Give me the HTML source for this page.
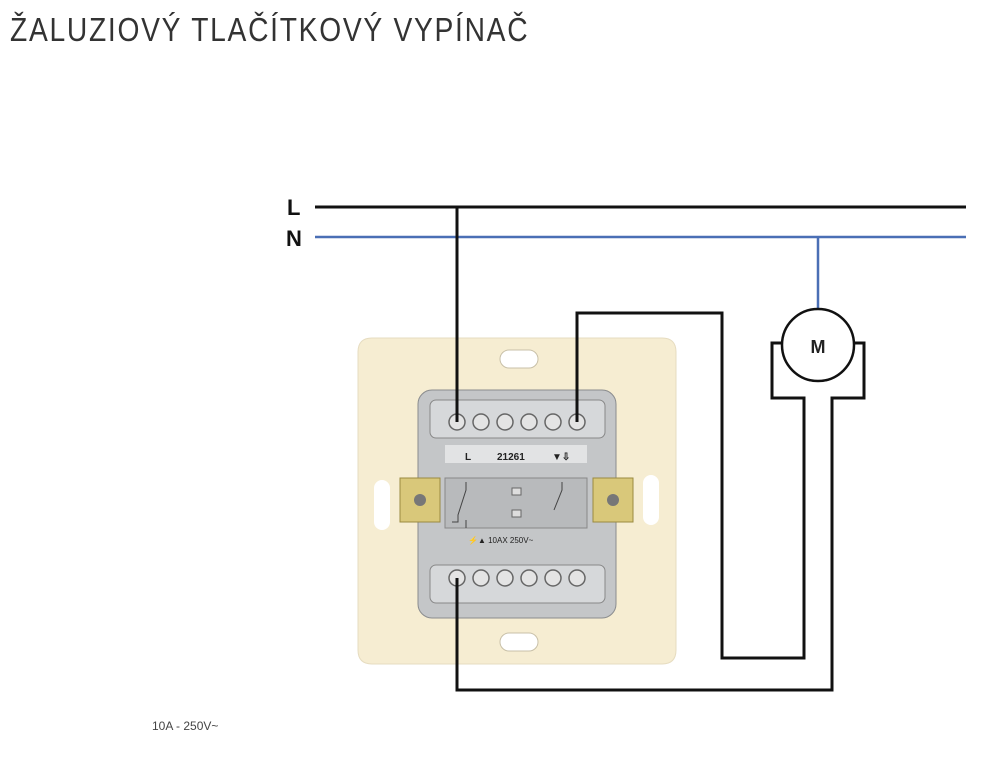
<!DOCTYPE html>
<html><head><style>
html,body{margin:0;padding:0;background:#fff;width:1000px;height:775px;overflow:hidden}
.t{position:absolute;left:10px;top:11px;font-family:"Liberation Sans",sans-serif;font-size:33px;color:#333;transform:scaleX(0.855);transform-origin:0 0;white-space:nowrap;letter-spacing:2px}
.f{position:absolute;left:152px;top:719px;font-family:"Liberation Sans",sans-serif;font-size:12px;color:#444}
</style></head><body>
<div class="t">ŽALUZIOVÝ TLAČÍTKOVÝ VYPÍNAČ</div>
<div class="f">10A - 250V~</div>
<svg width="1000" height="775" style="position:absolute;left:0;top:0">
<path d="M372 338 H662 Q676 338 676 352 V650 Q676 664 662 664 H372 Q358 664 358 650 V352 Q358 338 372 338Z" fill="#f6edd2" stroke="#e6dcc0"/>
<rect x="500" y="350" width="38" height="18" rx="9" fill="#fff" stroke="#c8c0a8"/>
<rect x="500" y="633" width="38" height="18" rx="9" fill="#fff" stroke="#c8c0a8"/>
<rect x="374" y="480" width="16" height="50" rx="8" fill="#fff"/>
<rect x="643" y="475" width="16" height="50" rx="8" fill="#fff"/>
<rect x="418" y="390" width="198" height="228" rx="14" fill="#c4c6c8" stroke="#8a8c8e"/>
<rect x="430" y="400" width="175" height="38" rx="6" fill="#d6d8da" stroke="#888"/>
<rect x="430" y="565" width="175" height="38" rx="6" fill="#d6d8da" stroke="#888"/>
<g fill="#e4e4e4" stroke="#666" stroke-width="1.5">
<circle cx="457" cy="422" r="8"/><circle cx="481" cy="422" r="8"/><circle cx="505" cy="422" r="8"/><circle cx="529" cy="422" r="8"/><circle cx="553" cy="422" r="8"/><circle cx="577" cy="422" r="8"/>
<circle cx="457" cy="578" r="8"/><circle cx="481" cy="578" r="8"/><circle cx="505" cy="578" r="8"/><circle cx="529" cy="578" r="8"/><circle cx="553" cy="578" r="8"/><circle cx="577" cy="578" r="8"/>
</g>
<rect x="445" y="445" width="142" height="18" fill="#e2e3e4"/>
<text x="465" y="460" font-family="Liberation Sans" font-size="10" font-weight="bold" fill="#222">L</text>
<text x="497" y="460" font-family="Liberation Sans" font-size="10" font-weight="bold" fill="#222">21261</text>
<text x="552" y="460" font-family="Liberation Sans" font-size="10" font-weight="bold" fill="#222">▼⇩</text>
<rect x="445" y="478" width="142" height="50" fill="#b8babc" stroke="#888"/>
<rect x="512" y="488" width="9" height="7" fill="#ddd" stroke="#666"/>
<rect x="512" y="510" width="9" height="7" fill="#ddd" stroke="#666"/>
<path d="M466 482 V490 L458 515 V522 H452 M466 520 V528 M562 482 V490 L554 510" stroke="#444" fill="none"/>
<text x="468" y="543" font-family="Liberation Sans" font-size="8" fill="#222">⚡▲ 10AX 250V~</text>
<rect x="400" y="478" width="40" height="44" fill="#d9c87a" stroke="#9a8a40"/>
<circle cx="420" cy="500" r="6" fill="#777"/>
<rect x="593" y="478" width="40" height="44" fill="#d9c87a" stroke="#9a8a40"/>
<circle cx="613" cy="500" r="6" fill="#777"/>
<line x1="315" y1="207" x2="966" y2="207" stroke="#111" stroke-width="3"/>
<line x1="315" y1="237" x2="966" y2="237" stroke="#4a6fb5" stroke-width="2.5"/>
<line x1="818" y1="237" x2="818" y2="309" stroke="#4a6fb5" stroke-width="2.5"/>
<text x="287" y="215" font-family="Liberation Sans" font-size="22" font-weight="bold" fill="#111">L</text>
<text x="286" y="246" font-family="Liberation Sans" font-size="22" font-weight="bold" fill="#111">N</text>
<g stroke="#111" stroke-width="3" fill="none">
<polyline points="457,207 457,422"/>
<polyline points="577,422 577,313 722,313 722,658 804,658 804,398 772,398 772,343 782,343"/>
<polyline points="457,578 457,690 832,690 832,398 864,398 864,343 854,343"/>
<circle cx="818" cy="345" r="36" fill="#fff" stroke-width="2.5"/>
</g>
<text x="818" y="353" text-anchor="middle" font-family="Liberation Sans" font-size="18" font-weight="bold" fill="#222">M</text>
</svg>
</body></html>
